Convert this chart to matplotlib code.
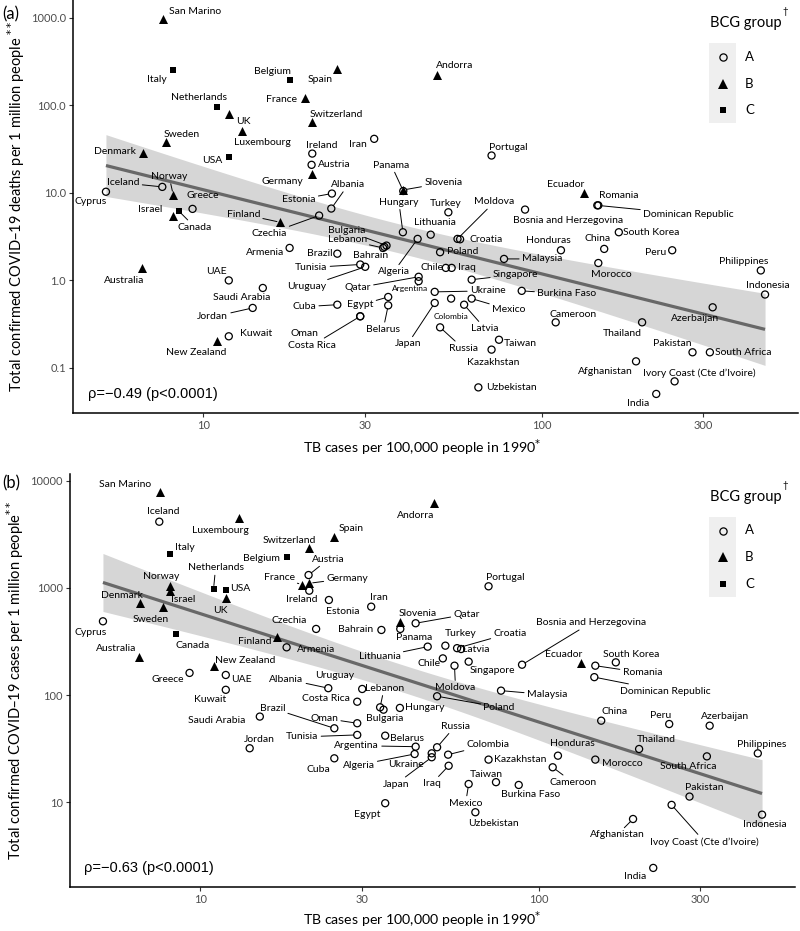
import numpy as np
import matplotlib
matplotlib.use('Agg')
import matplotlib.pyplot as plt
from matplotlib.patches import Rectangle
from matplotlib.lines import Line2D

plt.rcParams['font.family'] = ['Lato', 'DejaVu Sans']

# ---- data ----
countries = ['San Marino', 'Italy', 'Belgium', 'Spain', 'Netherlands', 'UK', 'Luxembourg', 'France',
             'Switzerland', 'Sweden', 'Denmark', 'USA', 'Ireland', 'Iran', 'Austria', 'Germany',
             'Andorra', 'Portugal', 'Panama', 'Slovenia', 'Norway', 'Iceland', 'Cyprus', 'Greece',
             'Israel', 'Canada', 'Finland', 'Estonia', 'Albania', 'Czechia', 'Hungary', 'Turkey',
             'Lithuania', 'Moldova', 'Croatia', 'Algeria', 'Bulgaria', 'Lebanon', 'Bahrain', 'Armenia',
             'Brazil', 'Tunisia', 'Uruguay', 'Poland', 'Chile', 'Iraq', 'Honduras', 'China',
             'South Korea', 'Peru', 'Malaysia', 'Morocco', 'Philippines', 'Indonesia', 'Singapore',
             'Qatar', 'Argentina', 'Burkina Faso', 'Ukraine', 'Japan', 'Colombia', 'Mexico', 'Latvia',
             'Russia', 'Taiwan', 'Kazakhstan', 'Uzbekistan', 'Cameroon', 'Thailand', 'Azerbaijan',
             'Pakistan', 'South Africa', 'Afghanistan', 'Ivory Coast', 'India', 'Australia', 'UAE',
             'Saudi Arabia', 'Jordan', 'Kuwait', 'New Zealand', 'Cuba', 'Egypt', 'Belarus', 'Oman',
             'Costa Rica', 'Ecuador', 'Romania', 'Dominican Republic', 'Bosnia and Herzegovina']
bcg = ['B', 'C', 'C', 'B', 'C', 'B', 'B', 'B',
       'B', 'B', 'B', 'C', 'A', 'A', 'A', 'B',
       'B', 'A', 'A', 'B', 'B', 'A', 'A', 'A',
       'B', 'C', 'B', 'A', 'A', 'A', 'A', 'A',
       'A', 'A', 'A', 'A', 'A', 'A', 'A', 'A',
       'A', 'A', 'A', 'A', 'A', 'A', 'A', 'A',
       'A', 'A', 'A', 'A', 'A', 'A', 'A',
       'A', 'A', 'A', 'A', 'A', 'A', 'A', 'A',
       'A', 'A', 'A', 'A', 'A', 'A', 'A',
       'A', 'A', 'A', 'A', 'A', 'B', 'A',
       'A', 'A', 'A', 'B', 'A', 'A', 'A', 'A',
       'A', 'B', 'A', 'A', 'A']
tb = [7.6, 8.15, 18.0, 24.9, 10.95, 11.9, 13.0, 20.0,
      20.9, 7.76, 6.65, 11.9, 21.0, 32.0, 20.9, 21.0,
      49.2, 71.1, 39.0, 39.0, 8.15, 7.57, 5.16, 9.3,
      8.15, 8.48, 16.9, 24.0, 23.9, 22.0, 38.9, 53.0,
      47.0, 56.4, 57.4, 43.0, 34.8, 34.0, 34.3, 18.0,
      24.9, 29.1, 30.1, 50.1, 52.1, 54.2, 114, 153,
      169, 243, 77.4, 147, 444, 457, 62.1,
      43.3, 43.3, 87.3, 48.3, 48.3, 54.0, 62.1, 59.0,
      50.1, 74.8, 71.1, 65.0, 110, 198, 320,
      279, 314, 190, 247, 218, 6.58, 11.9,
      15.0, 14.0, 11.9, 10.95, 24.9, 35.2, 35.2, 29.1,
      29.1, 133, 147, 146, 89.3]
deaths = [974, 256, 197, 261, 96, 80, 51.5, 120,
          64, 37.9, 28.7, 25.8, 28.1, 41.4, 20.9, 16.6,
          223, 26.7, 10.5, 10.8, 9.57, 11.7, 10.3, 6.56,
          5.5, 6.17, 4.61, 9.82, 6.62, 5.51, 3.55, 6.0,
          3.33, 2.98, 2.95, 2.98, 2.50, 2.35, 2.42, 2.35,
          2.02, 1.52, 1.43, 2.10, 1.39, 1.39, 2.21, 2.29,
          3.55, 2.21, 1.76, 1.58, 1.30, 0.69, 1.02,
          1.10, 0.98, 0.76, 0.74, 0.553, 0.62, 0.62, 0.528,
          0.291, 0.21, 0.162, 0.060, 0.332, 0.332, 0.493,
          0.151, 0.151, 0.119, 0.0703, 0.0505, 1.37, 1.0,
          0.82, 0.485, 0.23, 0.205, 0.528, 0.647, 0.519, 0.389,
          0.389, 10.0, 7.2, 7.2, 6.44]
cases = [7800, 2070, 1950, 3010, 977, 800, 4460, 1072,
         2355, 659, 717, 955, 942, 668, 1318, 1104,
         6150, 1035, 414, 477, 1035, 4145, 488, 161,
         942, 371, 346, 771, 116, 414, 75.9, 289,
         283, 188, 274, 28.2, 73.1, 76.9, 405, 279,
         49.0, 42.5, 114, 97.5, 220, 21.9, 27.2, 57.7,
         202, 53.7, 110, 25.0, 28.6, 7.66, 205,
         468, 33.0, 14.5, 28.6, 26.3, 27.8, 14.8, 269,
         32.6, 15.4, 25.0, 8.07, 21.2, 31.4, 51.8,
         11.3, 26.8, 6.98, 9.45, 2.44, 228, 154,
         63.0, 31.9, 112, 186, 25.7, 9.8, 41.8, 54.6,
         86.7, 199, 188, 147, 192]

names_a = {'Ivory Coast': 'Ivory Coast (Cte d\u2019Ivoire)'}
names_b = {'Ivory Coast': 'Ivoy Coast (Cte d\u2019Ivoire)'}
small_a = ['Argentina', 'Colombia']

# label offsets in pixels (dx, dy up, leader line)
lab_a = {
    'San Marino': (32, 7, 0), 'Italy': (-16, -10, 0), 'Belgium': (-17, 8, 0), 'Spain': (-17, -11, 0),
    'Netherlands': (-18, 9, 0), 'UK': (15, -8, 0), 'Luxembourg': (21, -12, 0), 'France': (-24, -1, 0),
    'Switzerland': (25, 8, 0), 'Sweden': (16, 8, 0), 'Denmark': (-28, 1, 0), 'USA': (-17, -4, 0),
    'Ireland': (9, 8, 0), 'Iran': (-16, -6, 0), 'Austria': (23, 0, 0), 'Germany': (-30, -8, 0),
    'Andorra': (17, 9, 0), 'Portugal': (17, 8, 0), 'Panama': (-12, 26, 1), 'Slovenia': (40, 7, 1),
    'Norway': (-4, 18, 1), 'Iceland': (-39, 4, 1), 'Cyprus': (-15, -10, 0), 'Greece': (10, 13, 0),
    'Israel': (-23, 6, 0), 'Canada': (16, -16, 1), 'Finland': (-37, 8, 1), 'Estonia': (-33, -6, 1),
    'Albania': (17, 24, 1), 'Czechia': (-50, -18, 1), 'Hungary': (-4, 30, 1), 'Turkey': (-3, 9, 0),
    'Lithuania': (4, 12, 0), 'Moldova': (37, 37, 1), 'Croatia': (26, 0, 0), 'Algeria': (-24, -33, 1),
    'Bulgaria': (-40, 15, 1), 'Lebanon': (-36, 8, 1), 'Bahrain': (-14, -9, 0), 'Armenia': (-25, -5, 0),
    'Brazil': (-18, 0, 0), 'Tunisia': (-49, -3, 1), 'Uruguay': (-59, -20, 1), 'Poland': (23, 1, 0),
    'Chile': (-14, 0, 0), 'Iraq': (15, 0, 0), 'Honduras': (-13, 10, 0), 'China': (-7, 10, 0),
    'South Korea': (32, 0, 0), 'Peru': (-17, -2, 0), 'Malaysia': (38, 0, 1), 'Morocco': (13, -11, 0),
    'Philippines': (-17, 9, 0), 'Indonesia': (3, 9, 0), 'Singapore': (44, 5, 1), 'Qatar': (-61, -11, 1),
    'Argentina': (-9, -7, 0), 'Burkina Faso': (45, -3, 1), 'Ukraine': (53, 1, 1), 'Japan': (-27, -41, 1),
    'Colombia': (0, -18, 0), 'Mexico': (37, -11, 1), 'Latvia': (21, -24, 1), 'Russia': (23, -21, 1),
    'Taiwan': (21, -4, 0), 'Kazakhstan': (2, -13, 0), 'Uzbekistan': (33, 0, 0), 'Cameroon': (17, 8, 0),
    'Thailand': (-20, -11, 0), 'Azerbaijan': (-18, -11, 0), 'Pakistan': (-20, 9, 0),
    'South Africa': (33, 0, 0), 'Afghanistan': (-31, -10, 0), 'Ivory Coast': (25, 8, 0),
    'India': (-18, -10, 0), 'Australia': (-18, -12, 0), 'UAE': (-12, 9, 0), 'Saudi Arabia': (-21, -10, 0),
    'Jordan': (-40, -9, 1), 'Kuwait': (27, 3, 0), 'New Zealand': (-20, -12, 0), 'Cuba': (-33, -2, 1),
    'Egypt': (-28, -8, 1), 'Belarus': (-5, -24, 1), 'Oman': (-56, -17, 0), 'Costa Rica': (-48, -29, 1),
    'Ecuador': (-18, 8, 0), 'Romania': (20, 10, 0), 'Dominican Republic': (91, -9, 1),
    'Bosnia and Herzegovina': (43, -11, 0),
}
lab_b = {
    'San Marino': (-35, 8, 0), 'Iceland': (4, 10, 0), 'Luxembourg': (-18, -12, 0), 'Spain': (17, 8, 0),
    'Switzerland': (-19, 8, 0), 'Italy': (15, 7, 0), 'Belgium': (-25, -2, 0), 'Austria': (20, 16, 1),
    'Netherlands': (2, 21, 1), 'Norway': (-9, 10, 0), 'France': (-23, 7, 1), 'Germany': (38, 5, 1),
    'USA': (14, 2, 0), 'Denmark': (-18, 8, 0), 'Israel': (13, -9, 0), 'Ireland': (-8, -9, 0),
    'Estonia': (14, -11, 0), 'Iran': (8, 9, 0), 'UK': (-5, -12, 0), 'Sweden': (-12, -12, 0),
    'Cyprus': (-12, -11, 0), 'Czechia': (-27, 8, 0), 'Bahrain': (-26, 0, 0), 'Canada': (17, -11, 0),
    'Finland': (-23, -4, 0), 'Armenia': (29, -2, 0), 'Australia': (-23, 8, 0), 'New Zealand': (32, 6, 0),
    'Greece': (-22, -7, 0), 'UAE': (16, -5, 0), 'Albania': (-42, 9, 1), 'Uruguay': (-28, 13, 0),
    'Lithuania': (-48, -10, 1), 'Kuwait': (-16, -10, 0), 'Costa Rica': (-31, 3, 0), 'Lebanon': (4, 19, 1),
    'Bulgaria': (1, -9, 0), 'Hungary': (25, 0, 0), 'Brazil': (-62, 20, 1), 'Oman': (-33, 5, 1),
    'Saudi Arabia': (-43, -4, 0), 'Tunisia': (-55, -2, 1), 'Jordan': (10, 9, 0), 'Argentina': (-59, 1, 1),
    'Belarus': (22, -3, 0), 'Algeria': (-56, -11, 1), 'Cuba': (-16, -11, 0), 'Ukraine': (-26, -11, 0),
    'Japan': (-36, -27, 1), 'Russia': (18, 21, 1), 'Colombia': (40, 10, 1), 'Iraq': (-17, -18, 1),
    'Egypt': (-18, -11, 0), 'Kazakhstan': (32, 0, 0), 'Taiwan': (-10, 8, 0), 'Mexico': (-3, -19, 1),
    'Burkina Faso': (12, -10, 0), 'Uzbekistan': (18, -11, 0), 'Honduras': (14, 12, 0),
    'Cameroon': (20, -15, 1), 'Morocco': (27, -4, 0), 'China': (13, 9, 0), 'Peru': (-9, 9, 0),
    'Azerbaijan': (15, 9, 0), 'Thailand': (17, 9, 0), 'Philippines': (4, 9, 0),
    'South Africa': (-19, -10, 0), 'Pakistan': (15, 9, 0), 'Indonesia': (3, -10, 0),
    'Ivory Coast': (33, -37, 1), 'Afghanistan': (-16, -16, 1), 'India': (-18, -9, 0),
    'Malaysia': (46, -4, 1), 'Poland': (62, -11, 1), 'Moldova': (1, -22, 1), 'Singapore': (24, -9, 0),
    'Chile': (-14, -5, 0), 'Turkey': (15, 12, 0), 'Croatia': (53, 15, 1), 'Latvia': (15, 0, 0),
    'Panama': (14, -9, 0), 'Slovenia': (17, 9, 0), 'Qatar': (51, 9, 1), 'Portugal': (17, 9, 0),
    'Andorra': (-19, -12, 0), 'Bosnia and Herzegovina': (69, 42, 1), 'Ecuador': (-17, 9, 0),
    'South Korea': (15, 8, 0), 'Romania': (47, -7, 1), 'Dominican Republic': (71, -14, 1),
}

W, H = 800, 931
fig = plt.figure(figsize=(W / 100, H / 100), dpi=100)


def fx(x):
    return x / W


def fy(y):
    return 1 - y / H


def log_lim(v):
    lo, hi = np.log10(min(v)), np.log10(max(v))
    pad = 0.05 * (hi - lo)
    return 10 ** (lo - pad), 10 ** (hi + pad)


def fit_band(x, y):
    lx, ly = np.log10(x), np.log10(y)
    n = len(lx)
    b, a = np.polyfit(lx, ly, 1)
    s = np.sqrt(np.sum((ly - (a + b * lx)) ** 2) / (n - 2))
    sxx = np.sum((lx - lx.mean()) ** 2)
    g = np.linspace(lx.min(), lx.max(), 80)
    f = a + b * g
    se = s * np.sqrt(1 / n + (g - lx.mean()) ** 2 / sxx)
    t = 1.99
    return 10 ** g, 10 ** f, 10 ** (f - t * se), 10 ** (f + t * se)


def panel(rect, yvals, labs, names, smalls, yticks, yticklabels, ylab, rho, tag, tag_y, leg_top):
    ax = fig.add_axes(rect)
    x = np.array(tb)
    y = np.array(yvals)
    g = np.array(bcg)
    gx, gf, glo, ghi = fit_band(x, y)
    ax.fill_between(gx, glo, ghi, color='#D6D6D6', lw=0, zorder=1)
    ax.plot(gx, gf, color='#686868', lw=2.3, zorder=2, solid_capstyle='butt')
    m = g == 'A'
    ax.scatter(x[m], y[m], s=26, marker='o', facecolors='none', edgecolors='black', linewidths=0.9, zorder=3)
    m = g == 'B'
    ax.scatter(x[m], y[m], s=42, marker='^', color='black', lw=0, zorder=3)
    m = g == 'C'
    ax.scatter(x[m], y[m], s=24, marker='s', color='black', lw=0, zorder=3)

    for c, xv, yv in zip(countries, tb, yvals):
        dx, dy, seg = labs[c]
        kw = {}
        if seg:
            kw['arrowprops'] = dict(arrowstyle='-', color='black', lw=0.7, shrinkA=0, shrinkB=2.5)
        ax.annotate(names.get(c, c), (xv, yv), xytext=(dx, dy), textcoords='offset pixels',
                    ha='center', va='center', fontsize=6.0 if c in smalls else 7.5, zorder=4, **kw)

    ax.set_xscale('log')
    ax.set_yscale('log')
    ax.set_xlim(*log_lim(tb))
    ax.set_ylim(*log_lim(yvals))
    ax.set_xticks([10, 30, 100, 300])
    ax.set_xticklabels(['10', '30', '100', '300'])
    ax.set_yticks(yticks)
    ax.set_yticklabels(yticklabels)
    ax.minorticks_off()
    for sp in ['top', 'right']:
        ax.spines[sp].set_visible(False)
    for sp in ['left', 'bottom']:
        ax.spines[sp].set_linewidth(1.1)
    ax.tick_params(direction='out', length=3, width=0.8, color='#333333', labelsize=8,
                   labelcolor='#4D4D4D', pad=2)
    ax.set_ylabel(ylab, fontsize=10.5, labelpad=3)
    ax.text(0.02, 0.045, rho, transform=ax.transAxes, fontsize=10.5, family='Liberation Sans',
            ha='left', va='center')
    fig.text(fx(2), fy(tag_y), tag, fontsize=12, ha='left', va='center')

    # legend
    fig.text(fx(710), fy(leg_top + 23), 'BCG group', fontsize=10.5, ha='left', va='center')
    fig.text(fx(782), fy(leg_top + 12), '\u2020', fontsize=7, ha='left', va='center')
    fig.add_artist(Rectangle((fx(709), fy(leg_top + 123)), 27 / W, 80 / H, transform=fig.transFigure,
                             color='#EFEFEF', lw=0))
    keys = [('A', 'o', 5.2, 'none'), ('B', '^', 6.5, 'black'), ('C', 's', 5.0, 'black')]
    for i, (lab, mk, ms, fc) in enumerate(keys):
        yy = leg_top + 57 + i * 26.7
        fig.add_artist(Line2D([fx(722.5)], [fy(yy)], transform=fig.transFigure, marker=mk, ms=ms,
                              mfc=fc, mec='black', mew=0.9 if fc == 'none' else 0, ls=''))
        fig.text(fx(745), fy(yy), lab, fontsize=9.5, ha='left', va='center')
    return ax


ax1 = panel([73 / W, 1 - 412.7 / H, 725 / W, 412.7 / H], deaths, lab_a, names_a, small_a,
            [0.1, 1, 10, 100, 1000], ['0.1', '1.0', '10.0', '100.0', '1000.0'],
            'Total confirmed COVID\u201319 deaths per 1 million people $^{**}$',
            '\u03c1=\u22120.49 (p<0.0001)', '(a)', 14, 0)
ax2 = panel([70 / W, 1 - 886.7 / H, 725 / W, 413.2 / H], cases, lab_b, names_b, [],
            [10, 100, 1000, 10000], ['10', '100', '1000', '10000'],
            'Total confirmed COVID\u201319 cases per 1 million people$^{**}$',
            '\u03c1=\u22120.63 (p<0.0001)', '(b)', 483, 473.5)

for yy in [447.7, 920]:
    fig.text(fx(422), fy(yy), 'TB cases per 100,000 people in 1990$^{*}$', fontsize=10.2,
             ha='center', va='center')

fig.savefig('out.png', dpi=100)
